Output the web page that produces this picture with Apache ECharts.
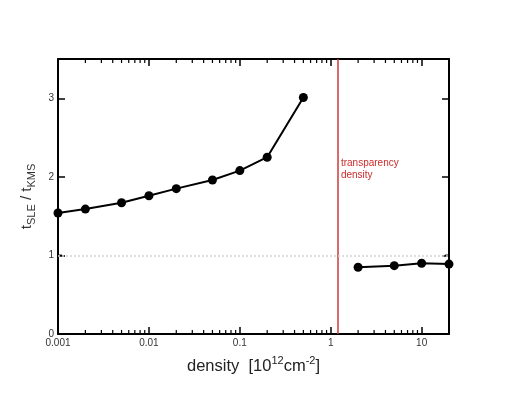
<!DOCTYPE html>
<html>
<head>
<meta charset="utf-8">
<script src="https://cdn.jsdelivr.net/npm/echarts@6/dist/echarts.min.js"></script>
<style>html,body{margin:0;padding:0;background:#fff;}#c{width:508px;height:393px;}</style>
</head>
<body>
<div id="c"></div>
<script>
var lowDensity = [0.001, 0.002, 0.005, 0.01, 0.02, 0.05, 0.1, 0.2, 0.5];
var lowRatio   = [1.54, 1.59, 1.67, 1.76, 1.85, 1.96, 2.08, 2.25, 3.01];
var highDensity = [2, 5, 10, 20];
var highRatio   = [0.85, 0.87, 0.90, 0.89];
var xMajorTicks = [0.001, 0.01, 0.1, 1, 10];
var xMinorTicks = [0.002,0.003,0.004,0.005,0.006,0.007,0.008,0.009,
                   0.02,0.03,0.04,0.05,0.06,0.07,0.08,0.09,
                   0.2,0.3,0.4,0.5,0.6,0.7,0.8,0.9,
                   2,3,4,5,6,7,8,9];
var yMajorTicks = [0, 1, 2, 3];
var yMinorTicks = [0.5, 1.5, 2.5];
var transparencyDensity = 1.2;
var referenceRatio = 1;

function pairs(xs, ys){ return xs.map(function(x,i){ return [x, ys[i]]; }); }

var font = 'Liberation Sans, Arial, sans-serif';
var chart = echarts.init(document.getElementById('c'), null, {renderer:'canvas'});

var xCommon = {
  type: 'log', logBase: 10, min: 0.001, max: 20,
  axisLine: {show: true, onZero: false, lineStyle: {color: '#000', width: 2}},
  axisTick: {show: true, inside: true, length: 7, lineStyle: {color: '#000', width: 1.5}},
  splitLine: {show: false}
};
var yCommon = {
  type: 'value', min: 0, max: 3.5, interval: 1,
  axisLine: {show: true, onZero: false, lineStyle: {color: '#000', width: 2}},
  axisTick: {show: true, inside: true, length: 7, lineStyle: {color: '#000', width: 1.5}},
  splitLine: {show: false}
};

function minorRender(dir){
  return function(params, api){
    var cs = params.coordSys;
    var v = api.value(0);
    var L = 4;
    var st = {stroke: '#000', lineWidth: 1.2};
    if (dir === 'x') {
      var p = api.coord([v, 1]);
      return {type:'group', children:[
        {type:'line', shape:{x1:p[0], y1:cs.y+cs.height, x2:p[0], y2:cs.y+cs.height-L}, style:st},
        {type:'line', shape:{x1:p[0], y1:cs.y, x2:p[0], y2:cs.y+L}, style:st}
      ]};
    } else {
      var q = api.coord([1, v]);
      return {type:'group', children:[
        {type:'line', shape:{x1:cs.x, y1:q[1], x2:cs.x+L, y2:q[1]}, style:st},
        {type:'line', shape:{x1:cs.x+cs.width, y1:q[1], x2:cs.x+cs.width-L, y2:q[1]}, style:st}
      ]};
    }
  };
}

chart.setOption({
  backgroundColor: '#fff',
  animation: false,
  grid: {left: 58, right: 59, top: 59, bottom: 59},
  xAxis: [
    Object.assign({}, xCommon, {
      position: 'bottom',
      name: '{n|density  [10}{sup|12}{n|cm}{sup|-2}{n|]}',
      nameLocation: 'middle', nameGap: 21,
      nameTextStyle: {
        rich: {
          n: {fontFamily: font, fontSize: 16.5, color: '#222', verticalAlign: 'bottom', lineHeight: 20},
          sup: {fontFamily: font, fontSize: 11, color: '#222', verticalAlign: 'top', lineHeight: 20, padding:[0,0,7,0]}
        }
      },
      axisLabel: {
        fontFamily: font, fontSize: 10, color: '#333', margin: 4,
        formatter: function(v){
          for (var i=0;i<xMajorTicks.length;i++){ if (Math.abs(v/xMajorTicks[i]-1) < 1e-6) return String(xMajorTicks[i]); }
          return '';
        }
      }
    }),
    Object.assign({}, xCommon, {position: 'top', axisLabel: {show: false}})
  ],
  yAxis: [
    Object.assign({}, yCommon, {
      position: 'left',
      name: '{t|t}{s|SLE}{t| / t}{s|KMS}',
      nameLocation: 'middle', nameGap: 17, nameRotate: 90,
      nameTextStyle: {
        rich: {
          t: {fontFamily: font, fontSize: 15, color: '#333', verticalAlign: 'top', lineHeight: 18},
          s: {fontFamily: font, fontSize: 11, color: '#333', verticalAlign: 'bottom', lineHeight: 18, padding:[7,0,0,0]}
        }
      },
      axisLabel: {
        fontFamily: font, fontSize: 10, color: '#333', margin: 4,
        formatter: function(v){ return yMajorTicks.indexOf(v) >= 0 ? String(v) : ''; }
      }
    }),
    Object.assign({}, yCommon, {position: 'right', axisLabel: {show: false}})
  ],
  series: [
    {
      type: 'line', xAxisIndex: 0, yAxisIndex: 0,
      data: pairs(lowDensity, lowRatio),
      symbol: 'circle', symbolSize: 9,
      lineStyle: {color: '#000', width: 2},
      itemStyle: {color: '#000'},
      z: 5,
      markLine: {
        silent: true, symbol: 'none', label: {show: false},
        data: [
          {xAxis: transparencyDensity, lineStyle: {color: '#cc3a3a', width: 1.5, type: 'solid'}},
          {yAxis: referenceRatio, lineStyle: {color: '#d4d4d4', width: 1.5, type: [2, 2]}}
        ]
      },
      markPoint: {
        silent: true, symbol: 'circle', symbolSize: 0,
        data: [{coord: [transparencyDensity, 2.1], value: 0}],
        label: {
          show: true, position: 'right', distance: 3,
          formatter: 'transparency\ndensity',
          fontFamily: font, fontSize: 10, color: '#cc2a2a', lineHeight: 12, align: 'left'
        }
      }
    },
    {
      type: 'line', xAxisIndex: 0, yAxisIndex: 0,
      data: pairs(highDensity, highRatio),
      symbol: 'circle', symbolSize: 9,
      lineStyle: {color: '#000', width: 2},
      itemStyle: {color: '#000'},
      z: 5
    },
    {
      type: 'custom', xAxisIndex: 0, yAxisIndex: 0, silent: true,
      data: xMinorTicks.map(function(v){ return [v, 1]; }),
      renderItem: minorRender('x'), z: 3
    },
    {
      type: 'custom', xAxisIndex: 0, yAxisIndex: 0, silent: true,
      data: yMinorTicks.map(function(v){ return [1, v]; }),
      renderItem: minorRender('y'), z: 3
    }
  ]
});
</script>
</body>
</html>
